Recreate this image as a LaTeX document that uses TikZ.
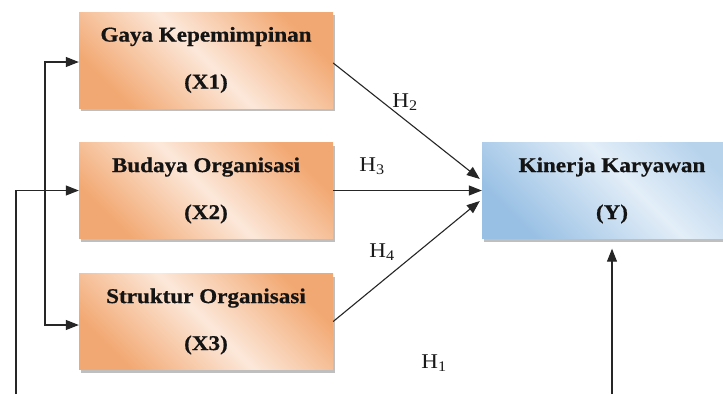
\documentclass[tikz,border=0pt]{standalone}
\usepackage{fontspec}
\setmainfont{Liberation Serif}[FakeStretch=1.1, BoldFeatures={FakeBold=0.6}]
\usetikzlibrary{arrows.meta,shadows}
\definecolor{or1}{HTML}{F2A872}
\definecolor{or2}{HTML}{FCE8DA}
\definecolor{bl1}{HTML}{98C0E4}
\definecolor{bl2}{HTML}{E3EEF8}
\pgfdeclarehorizontalshading{orsh}{100bp}{color(0bp)=(or1); color(25bp)=(or1); color(50bp)=(or2); color(75bp)=(or1); color(100bp)=(or1)}
\pgfdeclarehorizontalshading{blsh}{100bp}{color(0bp)=(bl1); color(25bp)=(bl1); color(55bp)=(bl2); color(75bp)=(bl1!70!white); color(100bp)=(bl1!70!white)}
\tikzset{
  box/.style={minimum width=254pt, minimum height=96pt, inner sep=0pt, align=center,
    font=\bfseries\fontsize{21}{47}\selectfont, text=black!92,
    drop shadow={shadow xshift=2pt, shadow yshift=-3pt, fill=black!50, opacity=0.5}},
  obox/.style={box, shading=orsh, shading angle=45},
  ybox/.style={box, minimum width=260pt, shading=blsh, shading angle=45},
  arr/.style={-{Triangle[length=13pt,width=10pt]}, line width=1.1pt, draw=black!85},
  hl/.style={font=\fontsize{21}{24}\selectfont, inner sep=0pt, text=black!90}
}
\begin{document}
\begin{tikzpicture}[x=1pt,y=-1pt]
\clip (0,0) rectangle (723,394);
\fill[white] (0,0) rectangle (723,394);
\node[obox] (X1) at (206,60) {Gaya Kepemimpinan\\(X1)};
\node[obox] (X2) at (206,190.5) {Budaya Organisasi\\(X2)};
\node[obox] (X3) at (206,321.5) {Struktur Organisasi\\(X3)};
\node[ybox] (Y) at (612,190.5) {Kinerja Karyawan\\(Y)};

\draw[arr] ([yshift=-3pt]X1.east) -- ([xshift=-2pt,yshift=11.5pt]Y.west);
\draw[arr] (X2.east) -- (Y.west);
\draw[arr] (X3.east) -- ([xshift=-2pt,yshift=-10.5pt]Y.west);

\coordinate (b1) at (16,394);
\coordinate (c) at (45,190);
\coordinate (b2) at (612,394);
\draw[arr] (b1) |- (X2.west);
\draw[arr] (c) |- ([yshift=-2pt]X1.west);
\draw[arr] (c) |- ([yshift=-3.5pt]X3.west);
\draw[arr] (b2) -- ([yshift=-10pt]Y.south);

\node[hl] (H2) at (405,102) {H\textsubscript{2}};
\node[hl] (H3) at (372,166) {H\textsubscript{3}};
\node[hl] (H4) at (382,252) {H\textsubscript{4}};
\node[hl] (H1) at (434,363) {H\textsubscript{1}};
\end{tikzpicture}
\end{document}
